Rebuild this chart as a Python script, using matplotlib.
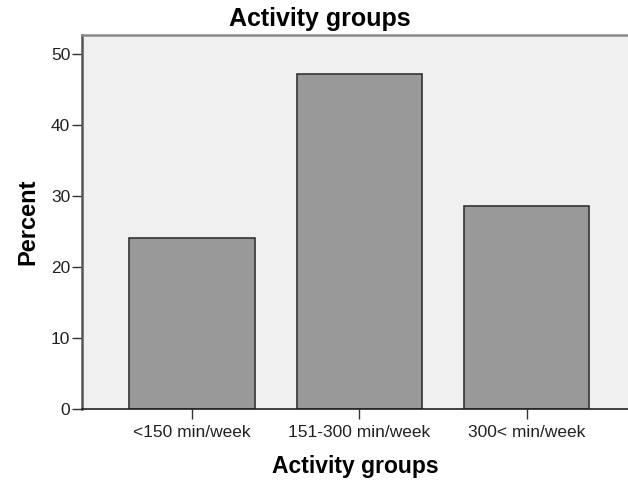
import matplotlib
matplotlib.use("Agg")
import numpy as np
from matplotlib import pyplot

groups = ["<150 min/week", "151-300 min/week", "300< min/week"]
percent = [24.1, 47.3, 28.6]
yticks = [0, 10, 20, 30, 40, 50]

pyplot.rcParams["font.family"] = ["Liberation Sans", "DejaVu Sans"]

fig = pyplot.figure(figsize=(6.28, 4.84), dpi=100)
ax = fig.add_axes([82/628, 75/484, 1 - 82/628, (409 - 35.3)/484])
ax.set_facecolor("#f0f0f0")

x = np.arange(len(groups))
ax.bar(x, percent, width=0.749, color="#999999", edgecolor="#333333", linewidth=1.2, zorder=2)

ax.set_xlim(-0.657, 2.606)
ax.set_ylim(0, 52.7)
ax.set_xticks(x, groups)
ax.set_yticks(yticks)
ax.tick_params(axis="both", direction="out", length=7.5, width=1, color="#333333", labelsize=12.5, labelcolor="#222222")
ax.tick_params(axis="y", pad=1)
ax.tick_params(axis="x", pad=4)

ax.spines["right"].set_visible(False)
ax.spines["top"].set_color("#888888")
ax.spines["top"].set_linewidth(1.8)
ax.spines["left"].set_color("#555555")
ax.spines["left"].set_linewidth(1.8)
ax.spines["bottom"].set_color("#222222")
ax.spines["bottom"].set_linewidth(1.2)

ax.set_xlabel("Activity groups", fontsize=16.5, fontweight="bold", labelpad=11)
ax.set_ylabel("Percent", fontsize=17, fontweight="bold", labelpad=8)
# title sits centred on the figure, not the axes
ax.set_title("Activity groups", fontsize=18, fontweight="bold", pad=7, x=0.436)

pyplot.savefig("out.png", dpi=100)
